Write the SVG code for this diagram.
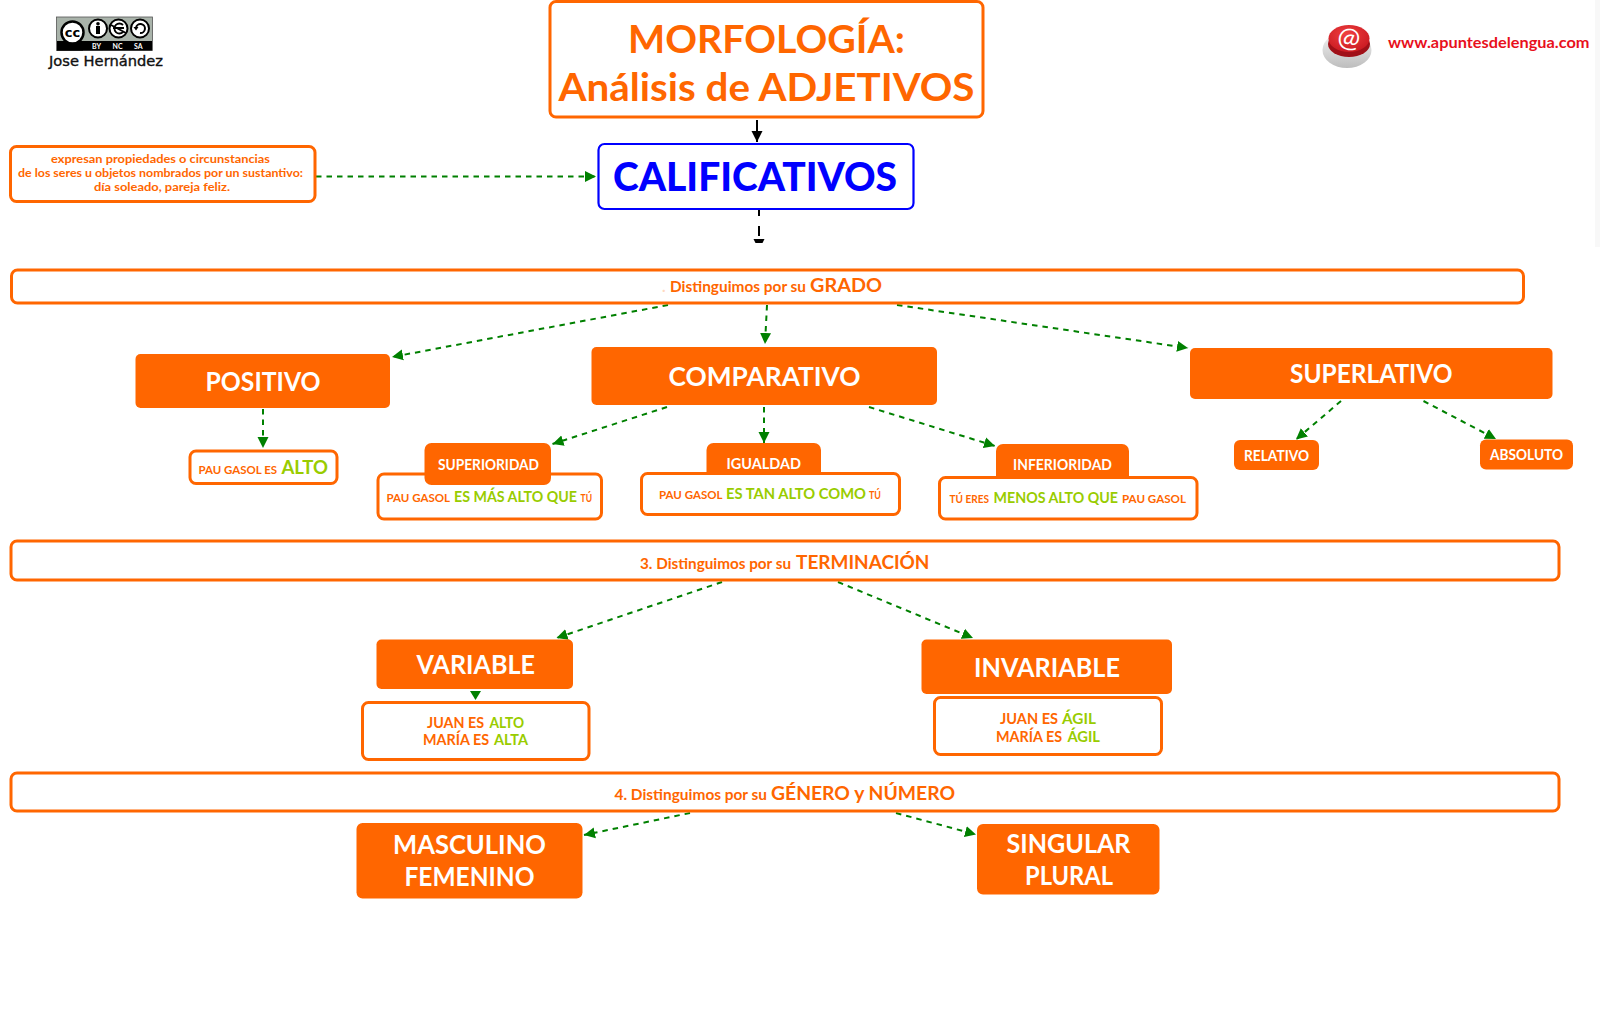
<svg xmlns="http://www.w3.org/2000/svg" width="1600" height="1029" viewBox="0 0 1600 1029">
<style>
text{font-family:"Lato","Open Sans","Liberation Sans",sans-serif;font-weight:700;text-anchor:start}
.o{fill:#ff6600}.g{fill:#99cc00}.w{fill:#fff}
.fb{fill:#ff6600}
.ob{fill:#fff;stroke:#ff6600;stroke-width:3}
.c{fill:none;stroke:#008000;stroke-width:2;stroke-dasharray:5.5 5}
.s{font-size:11px}.m{font-size:15px}.l{font-size:19px}.xl{font-size:26.5px}
</style>
<defs>
<marker id="gh" markerUnits="userSpaceOnUse" markerWidth="12" markerHeight="12" refX="11" refY="6" orient="auto"><path d="M0 0.5L11 6L0 11.500z" fill="#008000"/></marker>
<marker id="bh" markerUnits="userSpaceOnUse" markerWidth="12" markerHeight="12" refX="11" refY="6" orient="auto"><path d="M0 0.5L11 6L0 11.500z" fill="#000"/></marker>
<radialGradient id="rt" cx="45%" cy="35%" r="70%"><stop offset="0" stop-color="#f04040"/><stop offset="1" stop-color="#c81820"/></radialGradient>
<linearGradient id="bs" x1="0" y1="0" x2="0" y2="1"><stop offset="0" stop-color="#f4f4f4"/><stop offset="1" stop-color="#bdbdbd"/></linearGradient>
</defs>
<rect x="1595" y="0" width="5" height="247" fill="#f8f8f8"/>

<g id="cc-badge">
<rect x="56.500" y="17" width="96" height="33.500" fill="#a9b3aa" stroke="#555" stroke-width="0.8"/>
<rect x="57" y="41" width="95" height="9.500" fill="#000"/>
<path d="M57 41H63A15 13 0 0 0 83 41V50.500H57z" fill="#000"/>
<circle cx="72.500" cy="32.500" r="11" fill="#fff" stroke="#000" stroke-width="2.500"/>
<text x="72.500" y="37" style="font-size:13px;text-anchor:middle;font-family:'DejaVu Sans',sans-serif">cc</text>
<circle cx="98" cy="28.500" r="9" fill="#fff" stroke="#000" stroke-width="2"/>
<circle cx="98" cy="23.800" r="1.800" fill="#000"/><rect x="96" y="26" width="4" height="8" fill="#000"/>
<circle cx="118.500" cy="28.500" r="9" fill="#fff" stroke="#000" stroke-width="2"/>
<path d="M123 25A5 5 0 1 0 123 32M113 28H124M111 25L126 33" fill="none" stroke="#000" stroke-width="1.800"/>
<circle cx="140" cy="28.500" r="9" fill="#fff" stroke="#000" stroke-width="2"/>
<path d="M136 28A4.500 4.500 0 1 1 140 33" fill="none" stroke="#000" stroke-width="2"/><path d="M133.500 27H138.500L136 30.500z" fill="#000"/>
<text class="w" x="92" y="48.500" style="font-size:7px">BY</text>
<text class="w" x="112.500" y="48.500" style="font-size:7px">NC</text>
<text class="w" x="134" y="48.500" style="font-size:7px">SA</text>
<text x="49" y="66" textLength="114" lengthAdjust="spacingAndGlyphs" style="font-size:14px;font-weight:400;font-family:'DejaVu Sans',sans-serif;fill:#111;stroke:#111;stroke-width:0.35">Jose Hernández</text>
</g>

<g id="web-badge">
<ellipse cx="1347" cy="50" rx="24.500" ry="18" fill="url(#bs)"/>
<ellipse cx="1349" cy="44" rx="21" ry="13" fill="#a01018"/>
<ellipse cx="1349" cy="38.500" rx="20.500" ry="13.500" fill="url(#rt)"/>
<text x="1349" y="47" transform="rotate(8 1349 38)" style="font-size:27px;font-weight:400;fill:#fff;text-anchor:middle">@</text>
<text x="1388" y="47.500" textLength="201.500" lengthAdjust="spacingAndGlyphs" style="font-size:15px;fill:#e8101c">www.apuntesdelengua.com</text>
</g>

<g id="connectors">
<path d="M757 120V142" fill="none" stroke="#000" stroke-width="2" marker-end="url(#bh)"/>
<path d="M759 209V216M759 226V236" fill="none" stroke="#000" stroke-width="2"/>
<path d="M753.500 239H764.500L762.500 243H755.500z" fill="#000"/>
<path class="c" d="M316 176.500H596" marker-end="url(#gh)"/>
<path class="c" d="M668 305L392 357" marker-end="url(#gh)"/>
<path class="c" d="M767 305L765 344" marker-end="url(#gh)"/>
<path class="c" d="M897 305L1188 348" marker-end="url(#gh)"/>
<path class="c" d="M263 409V448" marker-end="url(#gh)"/>
<path class="c" d="M667 407L552.500 444" marker-end="url(#gh)"/>
<path class="c" d="M764 407V443" marker-end="url(#gh)"/>
<path class="c" d="M869 407L995 446" marker-end="url(#gh)"/>
<path class="c" d="M1341 401L1296 439.500" marker-end="url(#gh)"/>
<path class="c" d="M1423.500 401L1496 439" marker-end="url(#gh)"/>
<path class="c" d="M722 582L556.500 638" marker-end="url(#gh)"/>
<path class="c" d="M838 582L973 638" marker-end="url(#gh)"/>
<path d="M470 691H481L475.500 700z" fill="#008000"/>
<path class="c" d="M690 813L584 835" marker-end="url(#gh)"/>
<path class="c" d="M896 813L976 834.500" marker-end="url(#gh)"/>
</g>

<g id="title">
<rect class="ob" x="550" y="1.500" width="433" height="115.500" rx="6"/>
<text class="o" x="628" y="53" textLength="277" lengthAdjust="spacingAndGlyphs" style="font-size:39px">MORFOLOGÍA:</text>
<text class="o" x="558.500" y="101" textLength="416" lengthAdjust="spacingAndGlyphs" style="font-size:39px">Análisis de ADJETIVOS</text>
</g>
<g id="calificativos">
<rect x="598.500" y="144" width="315" height="65" rx="6" fill="#fff" stroke="#0000ff" stroke-width="2.200"/>
<text x="613" y="190.500" textLength="284" lengthAdjust="spacingAndGlyphs" style="font-size:40px;fill:#0000ff;font-weight:900">CALIFICATIVOS</text>
</g>
<g id="definicion">
<rect class="ob" x="10.500" y="146.500" width="304.500" height="55" rx="6"/>
<text class="o" x="51" y="163" textLength="219" lengthAdjust="spacingAndGlyphs" style="font-size:12px">expresan propiedades o circunstancias</text>
<text class="o" x="18" y="177" textLength="285" lengthAdjust="spacingAndGlyphs" style="font-size:12px">de los seres u objetos nombrados por un sustantivo:</text>
<text class="o" x="94" y="191" textLength="136" lengthAdjust="spacingAndGlyphs" style="font-size:12px">día soleado, pareja feliz.</text>
</g>
<g id="grado">
<rect class="ob" x="11.500" y="270" width="1512" height="33" rx="6"/>
<text class="m" x="662" y="292" style="fill:#ffd9bf">.</text>
<text class="m o"><tspan x="670" y="292" textLength="136" lengthAdjust="spacingAndGlyphs">Distinguimos por su</tspan><tspan class="l" x="810" y="292" textLength="72" lengthAdjust="spacingAndGlyphs">GRADO</tspan></text>
</g>
<g id="positivo">
<rect class="fb" x="135.500" y="354" width="254.500" height="54" rx="5"/>
<text class="w xl" x="205.500" y="390.500" textLength="115" lengthAdjust="spacingAndGlyphs">POSITIVO</text>
</g>
<g id="comparativo">
<rect class="fb" x="591.500" y="347" width="345.500" height="58" rx="5"/>
<text class="w xl" x="668.500" y="385.500" textLength="192" lengthAdjust="spacingAndGlyphs">COMPARATIVO</text>
</g>
<g id="superlativo">
<rect class="fb" x="1190" y="348" width="362.500" height="51" rx="5"/>
<text class="w xl" x="1290" y="383" textLength="162.500" lengthAdjust="spacingAndGlyphs">SUPERLATIVO</text>
</g>
<g id="ej-positivo">
<rect class="ob" x="190" y="451" width="147" height="32.500" rx="6"/>
<text class="s o"><tspan x="198.500" y="474" textLength="78.500" lengthAdjust="spacingAndGlyphs">PAU GASOL ES</tspan><tspan class="l g" x="281.500" y="474" textLength="46.500" lengthAdjust="spacingAndGlyphs">ALTO</tspan></text>
</g>
<g id="superioridad">
<rect class="ob" x="378" y="474" width="223.500" height="45" rx="6"/>
<rect class="fb" x="424.500" y="443" width="126.500" height="42" rx="7"/>
<text class="w m" x="438" y="469.500" textLength="101" lengthAdjust="spacingAndGlyphs">SUPERIORIDAD</text>
<text class="s o"><tspan x="386.500" y="502" textLength="63.500" lengthAdjust="spacingAndGlyphs">PAU GASOL</tspan><tspan class="g" style="font-size:15px" x="454" y="502" textLength="123" lengthAdjust="spacingAndGlyphs">ES MÁS ALTO QUE</tspan><tspan x="580.500" y="502" textLength="11.500" lengthAdjust="spacingAndGlyphs">TÚ</tspan></text>
</g>
<g id="igualdad">
<rect class="fb" x="706.500" y="443" width="114.500" height="40" rx="7"/>
<text class="w m" x="726.500" y="468.500" textLength="74.500" lengthAdjust="spacingAndGlyphs">IGUALDAD</text>
<rect class="ob" x="641.500" y="473.500" width="258" height="41" rx="6"/>
<text class="s o"><tspan x="659" y="499" textLength="63.500" lengthAdjust="spacingAndGlyphs">PAU GASOL</tspan><tspan class="g" style="font-size:15px" x="726" y="499" textLength="140" lengthAdjust="spacingAndGlyphs">ES TAN ALTO COMO</tspan><tspan x="869" y="499" textLength="12" lengthAdjust="spacingAndGlyphs">TÚ</tspan></text>
</g>
<g id="inferioridad">
<rect class="fb" x="996" y="444" width="133" height="40" rx="7"/>
<text class="w m" x="1013" y="469.500" textLength="99" lengthAdjust="spacingAndGlyphs">INFERIORIDAD</text>
<rect class="ob" x="939.500" y="477.500" width="257.500" height="41.500" rx="6"/>
<text class="s o"><tspan x="949.500" y="503" textLength="39.500" lengthAdjust="spacingAndGlyphs">TÚ ERES</tspan><tspan class="g" style="font-size:15px" x="993.500" y="503" textLength="124.500" lengthAdjust="spacingAndGlyphs">MENOS ALTO QUE</tspan><tspan x="1122" y="503" textLength="64" lengthAdjust="spacingAndGlyphs">PAU GASOL</tspan></text>
</g>
<g id="relativo">
<rect class="fb" x="1234" y="440" width="85" height="30" rx="6"/>
<text class="w m" x="1244" y="460.500" textLength="65" lengthAdjust="spacingAndGlyphs">RELATIVO</text>
</g>
<g id="absoluto">
<rect class="fb" x="1480" y="439.500" width="93" height="30" rx="6"/>
<text class="w m" x="1490" y="459.500" textLength="73" lengthAdjust="spacingAndGlyphs">ABSOLUTO</text>
</g>
<g id="terminacion">
<rect class="ob" x="11" y="541" width="1548" height="39" rx="6"/>
<text class="m o"><tspan x="640" y="568.500" textLength="151" lengthAdjust="spacingAndGlyphs">3. Distinguimos por su</tspan><tspan class="l" x="796" y="568.500" textLength="133.500" lengthAdjust="spacingAndGlyphs">TERMINACIÓN</tspan></text>
</g>
<g id="variable">
<rect class="fb" x="376.500" y="639.500" width="196.500" height="49.500" rx="5"/>
<text class="w xl" x="416.500" y="674" textLength="118.500" lengthAdjust="spacingAndGlyphs">VARIABLE</text>
</g>
<g id="ej-variable">
<rect class="ob" x="362.500" y="702.500" width="226.500" height="57" rx="6"/>
<text class="m o"><tspan x="427" y="727.500" textLength="57" lengthAdjust="spacingAndGlyphs">JUAN ES</tspan><tspan class="g" x="489.500" y="727.500" textLength="34.500" lengthAdjust="spacingAndGlyphs">ALTO</tspan></text>
<text class="m o"><tspan x="423" y="745" textLength="66" lengthAdjust="spacingAndGlyphs">MARÍA ES</tspan><tspan class="g" x="494" y="745" textLength="34" lengthAdjust="spacingAndGlyphs">ALTA</tspan></text>
</g>
<g id="invariable">
<rect class="fb" x="921.500" y="639.500" width="250.500" height="54.500" rx="5"/>
<text class="w xl" x="974" y="676.500" textLength="146" lengthAdjust="spacingAndGlyphs">INVARIABLE</text>
</g>
<g id="ej-invariable">
<rect class="ob" x="934.500" y="697.500" width="227" height="57" rx="6"/>
<text class="m o"><tspan x="1000" y="724" textLength="58" lengthAdjust="spacingAndGlyphs">JUAN ES</tspan><tspan class="g" x="1062" y="724" textLength="34" lengthAdjust="spacingAndGlyphs">ÁGIL</tspan></text>
<text class="m o"><tspan x="996" y="742" textLength="66" lengthAdjust="spacingAndGlyphs">MARÍA ES</tspan><tspan class="g" x="1067.500" y="742" textLength="32.500" lengthAdjust="spacingAndGlyphs">ÁGIL</tspan></text>
</g>
<g id="genero">
<rect class="ob" x="11" y="773" width="1548" height="38" rx="6"/>
<text class="m o"><tspan x="614.500" y="799.500" textLength="152.500" lengthAdjust="spacingAndGlyphs">4. Distinguimos por su</tspan><tspan class="l" x="771" y="799.500" textLength="184" lengthAdjust="spacingAndGlyphs">GÉNERO y NÚMERO</tspan></text>
</g>
<g id="masculino">
<rect class="fb" x="356.500" y="823" width="226" height="75.500" rx="6"/>
<text class="w xl" x="393" y="854" textLength="153" lengthAdjust="spacingAndGlyphs">MASCULINO</text>
<text class="w xl" x="404.500" y="885.500" textLength="130" lengthAdjust="spacingAndGlyphs">FEMENINO</text>
</g>
<g id="singular">
<rect class="fb" x="977" y="824" width="182.500" height="70.500" rx="6"/>
<text class="w xl" x="1006.500" y="852.500" textLength="124" lengthAdjust="spacingAndGlyphs">SINGULAR</text>
<text class="w xl" x="1025" y="884.500" textLength="88" lengthAdjust="spacingAndGlyphs">PLURAL</text>
</g>
</svg>
